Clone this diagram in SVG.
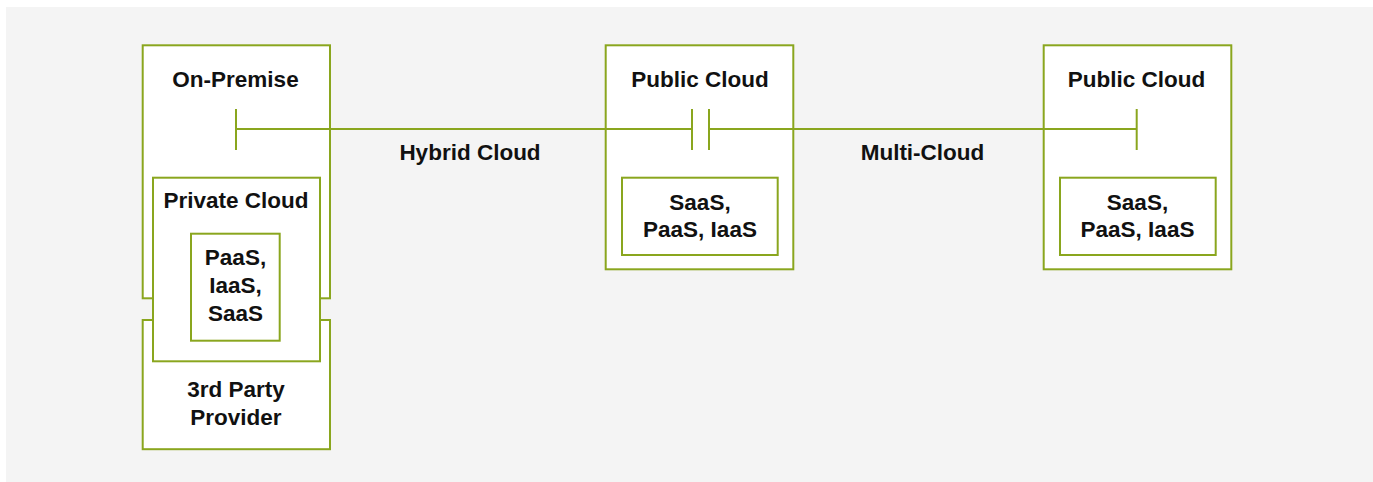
<svg xmlns="http://www.w3.org/2000/svg" width="1373" height="482" viewBox="0 0 1373 482">
<style>
.box{fill:#ffffff;stroke:#8aa61e;stroke-width:2}
.ln{stroke:#8aa61e;stroke-width:2;fill:none}
text{font-family:"Liberation Sans",Arial,sans-serif;font-weight:bold;font-size:22.5px;fill:#111111;text-anchor:middle}
</style>
<rect x="6" y="7" width="1367" height="475" fill="#f4f4f4"/>
<g id="on-premise">
<rect class="box" x="142.7" y="45.3" width="187.3" height="253"/>
<text x="235.5" y="87">On-Premise</text>
</g>
<g id="third-party">
<rect class="box" x="142.7" y="320" width="187.3" height="129.2"/>
<text x="236" y="397">3rd Party</text>
<text x="236" y="425">Provider</text>
</g>
<g id="private-cloud">
<rect class="box" x="153" y="177.7" width="167" height="183.6"/>
<text x="236" y="207.5">Private Cloud</text>
</g>
<g id="private-services">
<rect class="box" x="191" y="233.7" width="88.7" height="107"/>
<text x="235.5" y="265">PaaS,</text>
<text x="235.5" y="292.7">IaaS,</text>
<text x="235.5" y="320.5">SaaS</text>
</g>
<g id="public-cloud-1">
<rect class="box" x="605.7" y="45.3" width="187.6" height="224"/>
<text x="700" y="87">Public Cloud</text>
</g>
<g id="public-services-1">
<rect class="box" x="622" y="177.7" width="155.7" height="77.3"/>
<text x="700" y="210">SaaS,</text>
<text x="700" y="236.5">PaaS, IaaS</text>
</g>
<g id="public-cloud-2">
<rect class="box" x="1043.7" y="45.3" width="187.6" height="224"/>
<text x="1136.5" y="87">Public Cloud</text>
</g>
<g id="public-services-2">
<rect class="box" x="1060" y="177.7" width="155.7" height="77.3"/>
<text x="1137.5" y="210">SaaS,</text>
<text x="1137.5" y="236.5">PaaS, IaaS</text>
</g>
<g id="connectors">
<path class="ln" d="M236 129H692M236 109V150M692 109V150"/>
<text x="470" y="160">Hybrid Cloud</text>
<path class="ln" d="M709 129H1136.7M709 109V150M1136.7 109V150"/>
<text x="922.5" y="160">Multi-Cloud</text>
</g>
</svg>
